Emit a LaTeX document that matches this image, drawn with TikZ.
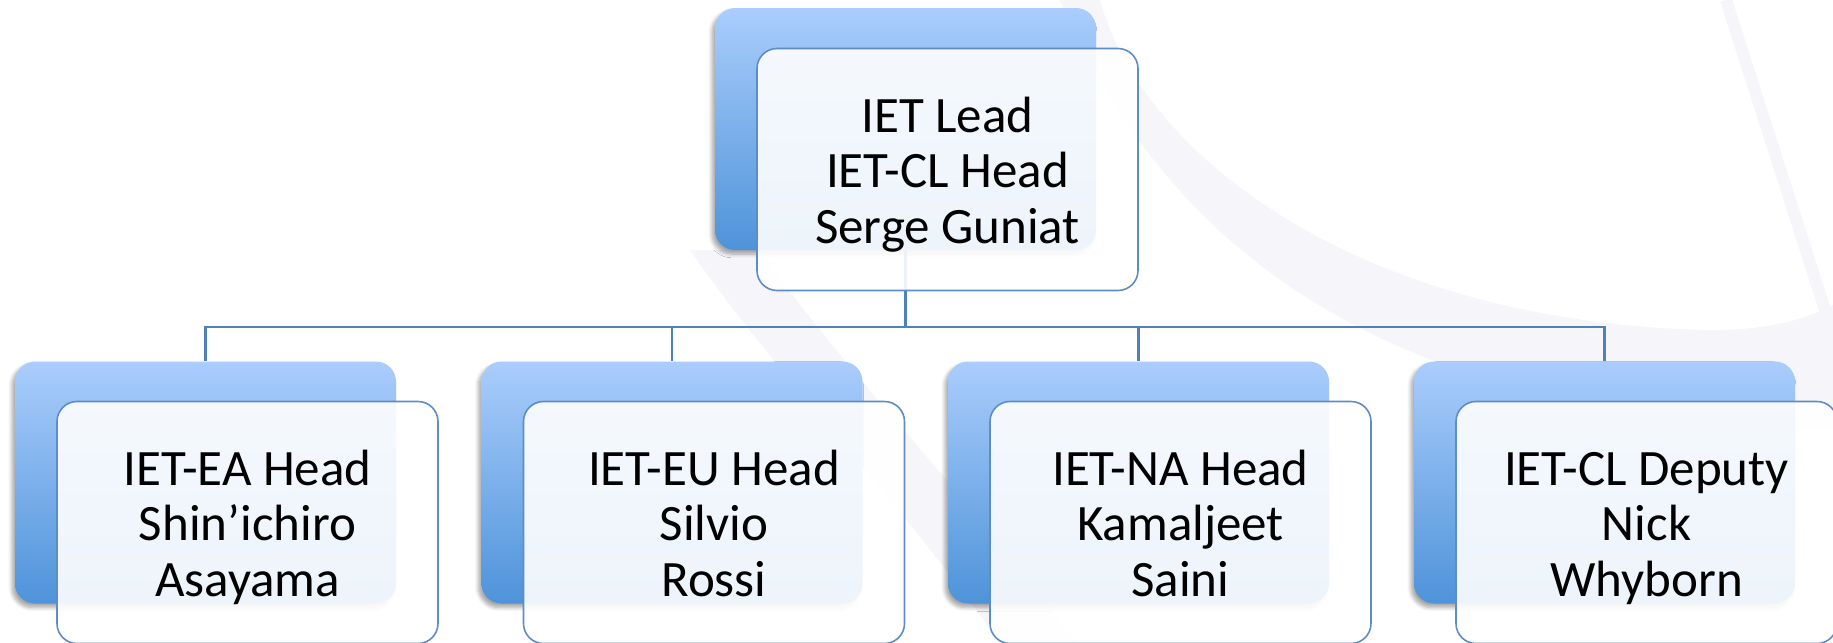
\documentclass[tikz,border=0pt]{standalone}
\usepackage{fontspec}
\setmainfont{Carlito}
\usetikzlibrary{shadows.blur}

\definecolor{boxtop}{RGB}{170,205,252}
\definecolor{boxbottom}{RGB}{78,147,217}
\definecolor{boxline}{RGB}{94,140,200}
\definecolor{linkblue}{RGB}{79,129,189}
\definecolor{wmgrey}{RGB}{245,245,250}

\tikzset{
	backbox/.style={rounded corners=10pt, inner sep=0pt, minimum width=190.5pt, minimum height=121pt,
		top color=boxtop, bottom color=boxbottom,
		blur shadow={shadow xshift=-1.5pt, shadow yshift=-2pt, shadow opacity=35, shadow blur steps=6}},
	frontbox/.style={rounded corners=10pt, inner sep=0pt, minimum width=190.5pt, minimum height=121pt,
		draw=boxline, line width=0.8pt, fill=white, fill opacity=0.9, text opacity=1,
		align=center, font=\fontsize{25.5pt}{27.75pt}\selectfont,
		text height=80pt, text depth=6.5pt},
	link/.style={draw=linkblue, line width=1.1pt},
}

\begin{document}
\begin{tikzpicture}[x=0.5pt, y=-0.5pt]
		%%%%% START %%%%%
		\useasboundingbox (0, 0) rectangle (1833, 643);
		
		% faint watermark
		\fill[wmgrey] (1100, 0) .. controls (1140, 150) and (1350, 320) .. (1703, 330) .. controls (1760, 331) and (1800, 322) .. (1833, 305) -- (1833, 430) .. controls (1500, 420) and (1200, 330) .. (1060, 0) -- cycle;
		\draw[wmgrey, line width=6pt] (1726, 0) -- (1825, 310);
		\fill[wmgrey] (690, 250) .. controls (780, 380) and (900, 500) .. (1000, 643) -- (1075, 643) .. controls (975, 500) and (850, 380) .. (760, 250) -- cycle;
		
		\node[backbox] (lead) at (905.5, 129) {};
		\node[backbox] (ea) at (205.5, 482.5) {};
		\node[backbox] (eu) at (672, 482.5) {};
		\node[backbox] (na) at (1138.5, 482.5) {};
		\node[backbox] (dep) at (1604.5, 482.5) {};
		
		\coordinate (bus) at (905.5, 327);
		\draw[link] (lead.south) -- (bus) -| (ea.north);
		\draw[link] (lead.south) -- (bus) -| (eu.north);
		\draw[link] (lead.south) -- (bus) -| (na.north);
		\draw[link] (lead.south) -- (bus) -| (dep.north);
		
		\node[frontbox] (leadtxt) at ([shift={(42, 40.5)}]lead) {IET Lead\\IET-CL Head\\Serge Guniat};
		\node[frontbox] (eatxt) at ([shift={(42, 40)}]ea) {IET-EA Head\\Shin’ichiro\\Asayama};
		\node[frontbox] (eutxt) at ([shift={(42, 40)}]eu) {IET-EU Head\\Silvio\\Rossi};
		\node[frontbox] (natxt) at ([shift={(42, 40)}]na) {IET-NA Head\\Kamaljeet\\Saini};
		\node[frontbox] (deptxt) at ([shift={(42, 40)}]dep) {IET-CL Deputy\\Nick\\Whyborn};
		
		%%%%% END %%%%%
\end{tikzpicture}
\end{document}
